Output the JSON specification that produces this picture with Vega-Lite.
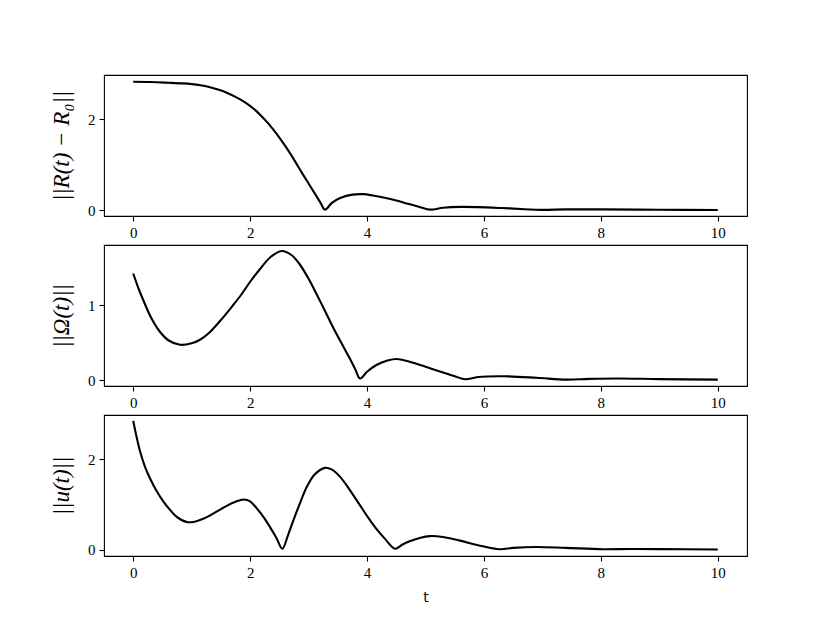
{
  "$schema": "https://vega.github.io/schema/vega-lite/v6.json",
  "background": "white",
  "padding": {"left": 49, "top": 74, "right": 10, "bottom": 10},
  "config": {
    "view": {"stroke": "black", "strokeWidth": 1.1},
    "axis": {
      "domain": false, "grid": false, "ticks": true, "tickColor": "black", "tickWidth": 1.1, "tickSize": 5,
      "labelPadding": 4, "labelFont": "Liberation Serif", "labelFontSize": 15, "labelColor": "black",
      "titleColor": "black"
    },
    "concat": {"spacing": 29}
  },
  "data": {"values": [
    {"s":"R","t":0,"v":2.82},{"s":"R","t":0.3,"v":2.815},{"s":"R","t":0.6,"v":2.80},{"s":"R","t":0.85,"v":2.785},{"s":"R","t":1.0,"v":2.77},{"s":"R","t":1.15,"v":2.745},{"s":"R","t":1.3,"v":2.705},{"s":"R","t":1.45,"v":2.65},{"s":"R","t":1.6,"v":2.58},{"s":"R","t":1.75,"v":2.49},{"s":"R","t":1.9,"v":2.38},{"s":"R","t":2.05,"v":2.24},{"s":"R","t":2.2,"v":2.06},{"s":"R","t":2.32,"v":1.89},{"s":"R","t":2.45,"v":1.68},{"s":"R","t":2.6,"v":1.41},{"s":"R","t":2.75,"v":1.11},{"s":"R","t":2.9,"v":0.79},{"s":"R","t":3.05,"v":0.48},{"s":"R","t":3.2,"v":0.17},{"s":"R","t":3.28,"v":0.01},{"s":"R","t":3.4,"v":0.16},{"s":"R","t":3.55,"v":0.27},{"s":"R","t":3.75,"v":0.34},{"s":"R","t":3.94,"v":0.35},{"s":"R","t":4.1,"v":0.32},{"s":"R","t":4.3,"v":0.27},{"s":"R","t":4.5,"v":0.21},{"s":"R","t":4.7,"v":0.14},{"s":"R","t":4.9,"v":0.07},{"s":"R","t":5.08,"v":0.01},{"s":"R","t":5.3,"v":0.05},{"s":"R","t":5.6,"v":0.07},{"s":"R","t":5.9,"v":0.065},{"s":"R","t":6.3,"v":0.045},{"s":"R","t":6.7,"v":0.02},{"s":"R","t":6.98,"v":0.005},{"s":"R","t":7.4,"v":0.015},{"s":"R","t":8.0,"v":0.015},{"s":"R","t":9.0,"v":0.007},{"s":"R","t":10,"v":0.003},
    {"s":"O","t":0,"v":1.42},{"s":"O","t":0.1,"v":1.2},{"s":"O","t":0.18,"v":1.05},{"s":"O","t":0.3,"v":0.84},{"s":"O","t":0.45,"v":0.65},{"s":"O","t":0.6,"v":0.53},{"s":"O","t":0.8,"v":0.47},{"s":"O","t":1.0,"v":0.49},{"s":"O","t":1.15,"v":0.54},{"s":"O","t":1.3,"v":0.63},{"s":"O","t":1.5,"v":0.80},{"s":"O","t":1.7,"v":0.99},{"s":"O","t":1.85,"v":1.14},{"s":"O","t":2.0,"v":1.31},{"s":"O","t":2.17,"v":1.48},{"s":"O","t":2.35,"v":1.64},{"s":"O","t":2.54,"v":1.72},{"s":"O","t":2.7,"v":1.67},{"s":"O","t":2.85,"v":1.54},{"s":"O","t":3.0,"v":1.35},{"s":"O","t":3.14,"v":1.14},{"s":"O","t":3.3,"v":0.89},{"s":"O","t":3.42,"v":0.70},{"s":"O","t":3.55,"v":0.51},{"s":"O","t":3.71,"v":0.28},{"s":"O","t":3.8,"v":0.14},{"s":"O","t":3.88,"v":0.02},{"s":"O","t":4.0,"v":0.11},{"s":"O","t":4.16,"v":0.20},{"s":"O","t":4.35,"v":0.26},{"s":"O","t":4.51,"v":0.28},{"s":"O","t":4.7,"v":0.25},{"s":"O","t":4.91,"v":0.20},{"s":"O","t":5.1,"v":0.15},{"s":"O","t":5.3,"v":0.10},{"s":"O","t":5.5,"v":0.05},{"s":"O","t":5.68,"v":0.01},{"s":"O","t":5.9,"v":0.04},{"s":"O","t":6.33,"v":0.05},{"s":"O","t":6.9,"v":0.03},{"s":"O","t":7.41,"v":0.005},{"s":"O","t":7.8,"v":0.015},{"s":"O","t":8.3,"v":0.02},{"s":"O","t":9.0,"v":0.012},{"s":"O","t":10,"v":0.005},
    {"s":"U","t":0,"v":2.85},{"s":"U","t":0.06,"v":2.48},{"s":"U","t":0.12,"v":2.16},{"s":"U","t":0.2,"v":1.84},{"s":"U","t":0.29,"v":1.57},{"s":"U","t":0.4,"v":1.30},{"s":"U","t":0.52,"v":1.06},{"s":"U","t":0.63,"v":0.88},{"s":"U","t":0.75,"v":0.72},{"s":"U","t":0.92,"v":0.61},{"s":"U","t":1.05,"v":0.62},{"s":"U","t":1.26,"v":0.72},{"s":"U","t":1.45,"v":0.86},{"s":"U","t":1.6,"v":0.97},{"s":"U","t":1.75,"v":1.06},{"s":"U","t":1.89,"v":1.11},{"s":"U","t":2.0,"v":1.07},{"s":"U","t":2.11,"v":0.92},{"s":"U","t":2.23,"v":0.72},{"s":"U","t":2.34,"v":0.50},{"s":"U","t":2.45,"v":0.26},{"s":"U","t":2.55,"v":0.02},{"s":"U","t":2.65,"v":0.33},{"s":"U","t":2.74,"v":0.65},{"s":"U","t":2.85,"v":1.02},{"s":"U","t":2.97,"v":1.39},{"s":"U","t":3.1,"v":1.66},{"s":"U","t":3.28,"v":1.81},{"s":"U","t":3.4,"v":1.77},{"s":"U","t":3.54,"v":1.61},{"s":"U","t":3.7,"v":1.33},{"s":"U","t":3.88,"v":0.98},{"s":"U","t":4.02,"v":0.71},{"s":"U","t":4.16,"v":0.46},{"s":"U","t":4.3,"v":0.25},{"s":"U","t":4.48,"v":0.02},{"s":"U","t":4.6,"v":0.11},{"s":"U","t":4.74,"v":0.19},{"s":"U","t":4.9,"v":0.26},{"s":"U","t":5.08,"v":0.30},{"s":"U","t":5.3,"v":0.28},{"s":"U","t":5.59,"v":0.20},{"s":"U","t":5.9,"v":0.10},{"s":"U","t":6.27,"v":0.01},{"s":"U","t":6.5,"v":0.04},{"s":"U","t":6.9,"v":0.06},{"s":"U","t":7.4,"v":0.04},{"s":"U","t":8.04,"v":0.01},{"s":"U","t":8.5,"v":0.015},{"s":"U","t":9.0,"v":0.012},{"s":"U","t":10,"v":0.005}
  ]},
  "bounds": "flush",
  "vconcat": [
    {
      "width": 643, "height": 141,
      "transform": [{"filter": "datum.s === 'R'"}],
      "mark": {"type": "line", "color": "black", "strokeWidth": 2.1, "interpolate": "catmull-rom"},
      "encoding": {
        "x": {"field": "t", "type": "quantitative", "scale": {"domain": [-0.5, 10.5], "nice": false, "zero": false},
              "axis": {"values": [0, 2, 4, 6, 8, 10], "title": null}},
        "y": {"field": "v", "type": "quantitative", "scale": {"domain": [-0.13, 2.97], "nice": false, "zero": false},
              "axis": {"values": [0, 2], "title": "||R(t) − R₀||", "titleFont": "Liberation Serif", "titleFontStyle": "italic", "titleFontWeight": "normal", "titleFontSize": 23, "titlePadding": 14}}
      }
    },
    {
      "width": 643, "height": 141,
      "transform": [{"filter": "datum.s === 'O'"}],
      "mark": {"type": "line", "color": "black", "strokeWidth": 2.1, "interpolate": "catmull-rom"},
      "encoding": {
        "x": {"field": "t", "type": "quantitative", "scale": {"domain": [-0.5, 10.5], "nice": false, "zero": false},
              "axis": {"values": [0, 2, 4, 6, 8, 10], "title": null}},
        "y": {"field": "v", "type": "quantitative", "scale": {"domain": [-0.08, 1.8], "nice": false, "zero": false},
              "axis": {"values": [0, 1], "title": "||Ω(t)||", "titleFont": "Liberation Serif", "titleFontStyle": "italic", "titleFontWeight": "normal", "titleFontSize": 23, "titlePadding": 14}}
      }
    },
    {
      "width": 643, "height": 141,
      "transform": [{"filter": "datum.s === 'U'"}],
      "mark": {"type": "line", "color": "black", "strokeWidth": 2.1, "interpolate": "catmull-rom"},
      "encoding": {
        "x": {"field": "t", "type": "quantitative", "scale": {"domain": [-0.5, 10.5], "nice": false, "zero": false},
              "axis": {"values": [0, 2, 4, 6, 8, 10], "title": "t", "titleFont": "DejaVu Sans", "titleFontWeight": "normal", "titleFontSize": 14, "titlePadding": 10}},
        "y": {"field": "v", "type": "quantitative", "scale": {"domain": [-0.14, 2.98], "nice": false, "zero": false},
              "axis": {"values": [0, 2], "title": "||u(t)||", "titleFont": "Liberation Serif", "titleFontStyle": "italic", "titleFontWeight": "normal", "titleFontSize": 23, "titlePadding": 14}}
      }
    }
  ]
}
